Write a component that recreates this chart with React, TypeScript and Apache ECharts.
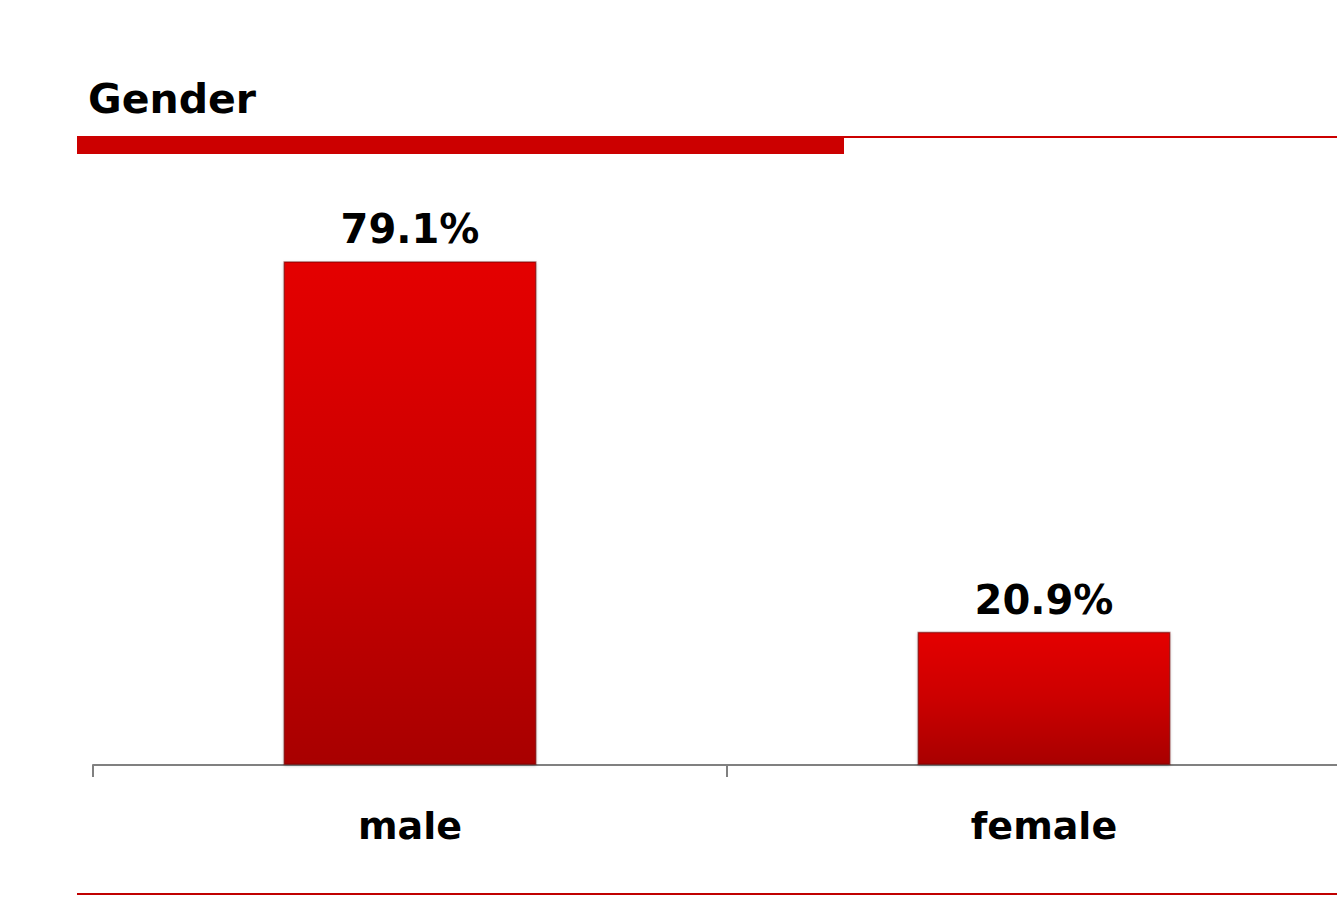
import React, { useEffect, useRef } from "react";
import * as echarts from "echarts";

const categories = ["male", "female"];
const values = [79.1, 20.9];
const titleText = "Gender";

export default function App() {
  const ref = useRef<HTMLDivElement>(null);
  useEffect(() => {
    if (!ref.current) return;
    const chart = echarts.init(ref.current, null, { renderer: "svg" });
    const font = "'DejaVu Sans', Verdana, sans-serif";
    chart.setOption({
      animation: false,
      backgroundColor: "#ffffff",
      grid: { left: 93, top: 128, width: 1268, height: 637 },
      xAxis: {
        type: "category",
        data: categories,
        axisLine: { lineStyle: { color: "#808080", width: 2 } },
        axisTick: { show: true, length: 12, lineStyle: { color: "#808080", width: 2 } },
        axisLabel: {
          margin: 42,
          color: "#000000",
          fontFamily: font,
          fontWeight: "bold",
          fontSize: 38,
        },
      },
      yAxis: {
        type: "value",
        min: 0,
        max: 100,
        show: false,
        splitLine: { show: false },
      },
      series: [
        {
          type: "bar",
          data: values,
          barWidth: 253,
          itemStyle: {
            color: new echarts.graphic.LinearGradient(0, 0, 0, 1, [
              { offset: 0, color: "#e40505" },
              { offset: 0.5, color: "#cc0505" },
              { offset: 1, color: "#a80404" },
            ]),
            borderColor: "rgba(110,0,0,0.55)",
            borderWidth: 1.5,
            shadowColor: "rgba(0,0,0,0.25)",
            shadowBlur: 3,
            shadowOffsetY: 1,
          },
          label: {
            show: true,
            position: "top",
            distance: 12,
            formatter: (p: any) => p.value.toFixed(1) + "%",
            color: "#000000",
            fontFamily: font,
            fontWeight: "bold",
            fontSize: 40,
          },
        },
      ],
      graphic: [
        {
          type: "text",
          left: 88,
          top: 78,
          style: {
            text: titleText,
            fill: "#000000",
            font: `bold 41px ${font}`,
          },
        },
        {
          type: "rect",
          shape: { x: 77, y: 136, width: 767, height: 18 },
          style: { fill: "#cc0000" },
        },
        {
          type: "line",
          shape: { x1: 844, y1: 137, x2: 1337, y2: 137 },
          style: { stroke: "#cc0000", lineWidth: 2 },
        },
        {
          type: "line",
          shape: { x1: 77, y1: 894, x2: 1337, y2: 894 },
          style: { stroke: "#c00000", lineWidth: 2 },
        },
      ],
    });
    return () => chart.dispose();
  }, []);
  return (
    <div
      style={{
        position: "absolute",
        left: 0,
        top: 0,
        width: 1337,
        height: 911,
        overflow: "hidden",
        background: "#ffffff",
      }}
    >
      <div ref={ref} style={{ width: 1400, height: 911 }} />
    </div>
  );
}
